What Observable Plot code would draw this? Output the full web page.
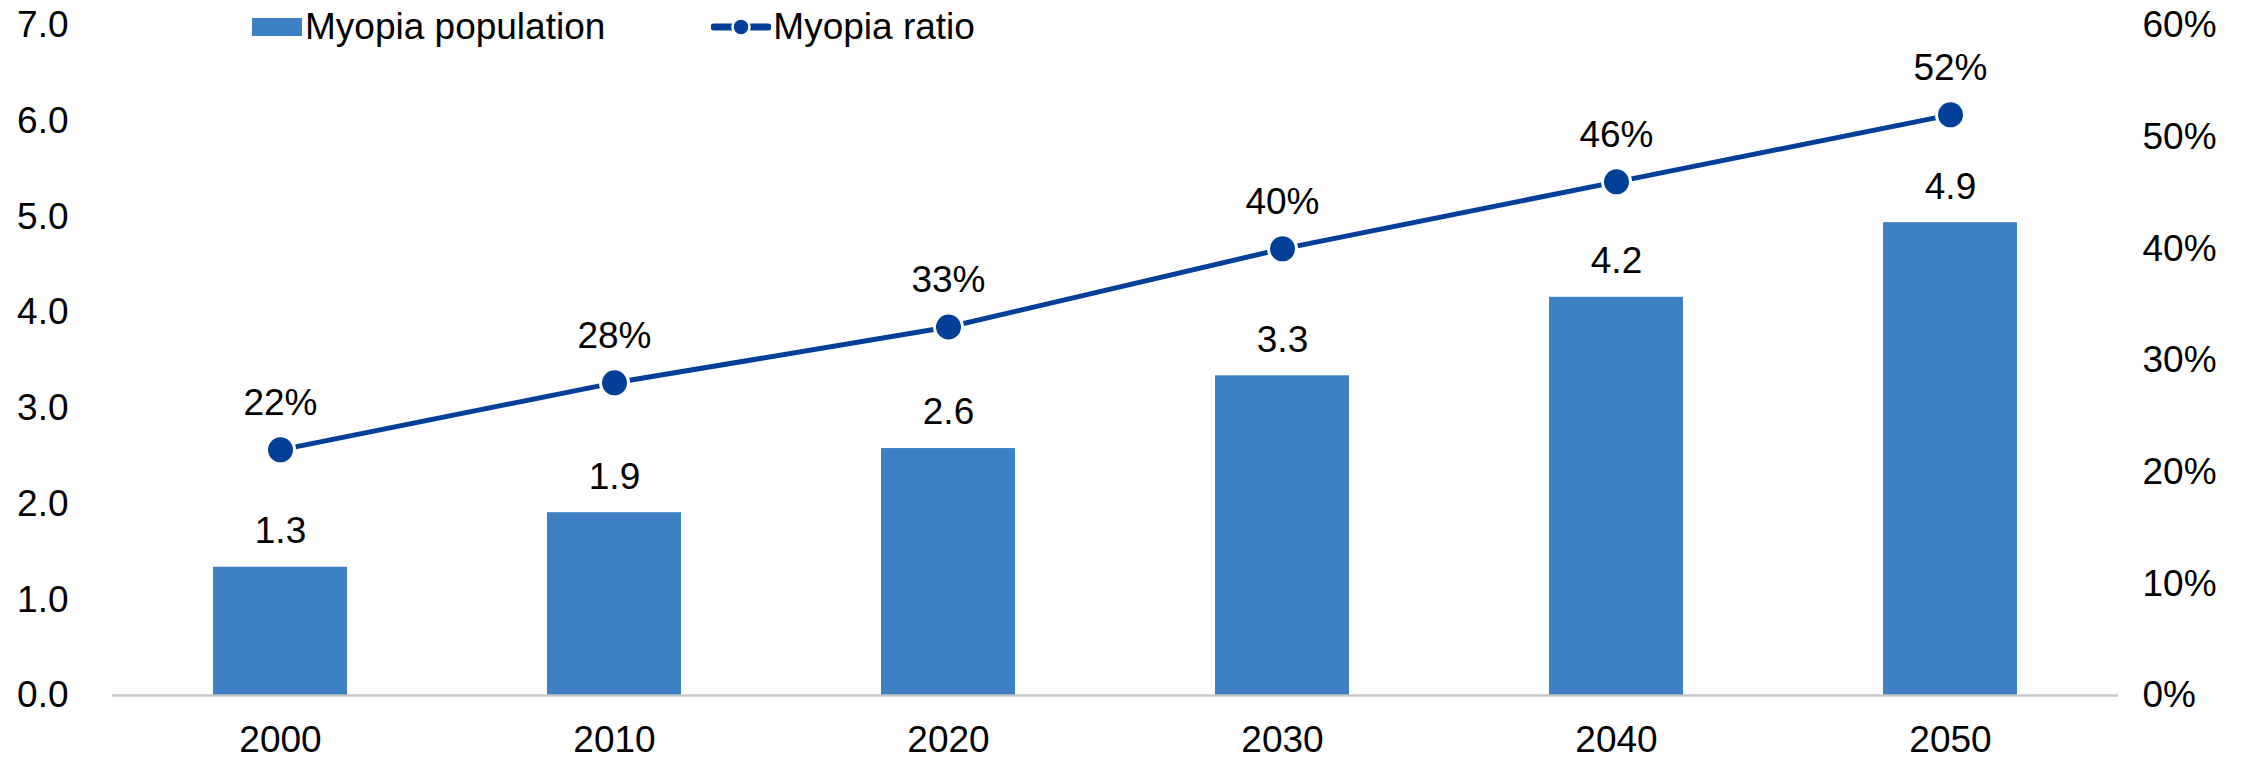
<!DOCTYPE html>
<html>
<head>
<meta charset="utf-8">
<script src="https://cdn.jsdelivr.net/npm/d3@7"></script>
<script src="https://cdn.jsdelivr.net/npm/@observablehq/plot@0.6"></script>
<style>
  html, body { margin: 0; padding: 0; background: #fff; }
  #wrap { position: relative; width: 2254px; height: 759px; font-family: "Liberation Sans", Arial, sans-serif; }
  #legend { position: absolute; top: 6px; left: 252px; display: flex; align-items: center; font-size: 37px; color: #000; white-space: nowrap; }
  .item { display: flex; align-items: center; }
  .sw { width: 50px; height: 18px; background: #3d81c4; margin-right: 3px; }
</style>
</head>
<body>
<div id="wrap">
  <div id="legend">
    <div class="item"><div class="sw"></div><span id="l1"></span></div>
    <div class="item" style="margin-left:106px"><svg width="60" height="26" style="margin-right:2px"><line x1="3" y1="13" x2="57" y2="13" stroke="#023f99" stroke-width="7" stroke-linecap="round"/><circle cx="30" cy="13" r="8.5" fill="#023f99" stroke="#fff" stroke-width="2.5"/></svg><span id="l2"></span></div>
  </div>
</div>
<script>
const years = ["2000", "2010", "2020", "2030", "2040", "2050"];
const population = [1.34, 1.91, 2.58, 3.34, 4.16, 4.94];
const ratio = [0.22, 0.28, 0.33, 0.40, 0.46, 0.52];
const leftTicks = [0, 1, 2, 3, 4, 5, 6, 7];
const rightTicks = [0, 0.1, 0.2, 0.3, 0.4, 0.5, 0.6];
const seriesNames = ["Myopia population", "Myopia ratio"];

document.getElementById("l1").textContent = seriesNames[0];
document.getElementById("l2").textContent = seriesNames[1];

const K = 7 / 0.6; // right axis maps 0–60% onto 0–7
const data = years.map((y, i) => ({year: y, pop: population[i], ratio: ratio[i]}));
const barColor = "#3d81c4";
const lineColor = "#023f99";

const chart = Plot.plot({
  width: 2254,
  height: 759,
  marginLeft: 112,
  marginRight: 136,
  marginTop: 25,
  marginBottom: 64,
  style: {fontFamily: "Liberation Sans, Arial, sans-serif", fontSize: "37px", color: "#000", background: "transparent"},
  x: {type: "band", domain: years, paddingInner: 0.6, paddingOuter: 0.3, label: null},
  y: {domain: [0, 7], label: null},
  marks: [
    Plot.axisY({ticks: leftTicks, tickSize: 0, tickPadding: 44, tickFormat: d => d.toFixed(1), label: null}),
    Plot.axisY({anchor: "right", ticks: rightTicks.map(r => r * K), tickSize: 0, tickPadding: 24, tickFormat: d => Math.round(d / K * 100) + "%", label: null}),
    Plot.axisX({tickSize: 0, tickPadding: 30, label: null}),
    Plot.barY(data, {x: "year", y: "pop", fill: barColor}),
    Plot.ruleY([0], {stroke: "#c6c6c6", strokeWidth: 2.5}),
    Plot.text(data, {x: "year", y: "pop", text: d => d.pop.toFixed(1), dy: -36, fill: "#000"}),
    Plot.line(data, {x: "year", y: d => d.ratio * K, stroke: lineColor, strokeWidth: 5}),
    Plot.dot(data, {x: "year", y: d => d.ratio * K, r: 14, fill: lineColor, stroke: "#fff", strokeWidth: 3}),
    Plot.text(data, {x: "year", y: d => d.ratio * K, text: d => Math.round(d.ratio * 100) + "%", dy: -47, fill: "#000"})
  ]
});
chart.style.position = "absolute";
chart.style.left = "0";
chart.style.top = "0";
document.getElementById("wrap").appendChild(chart);
document.getElementById("legend").style.zIndex = 2;
</script>
</body>
</html>
